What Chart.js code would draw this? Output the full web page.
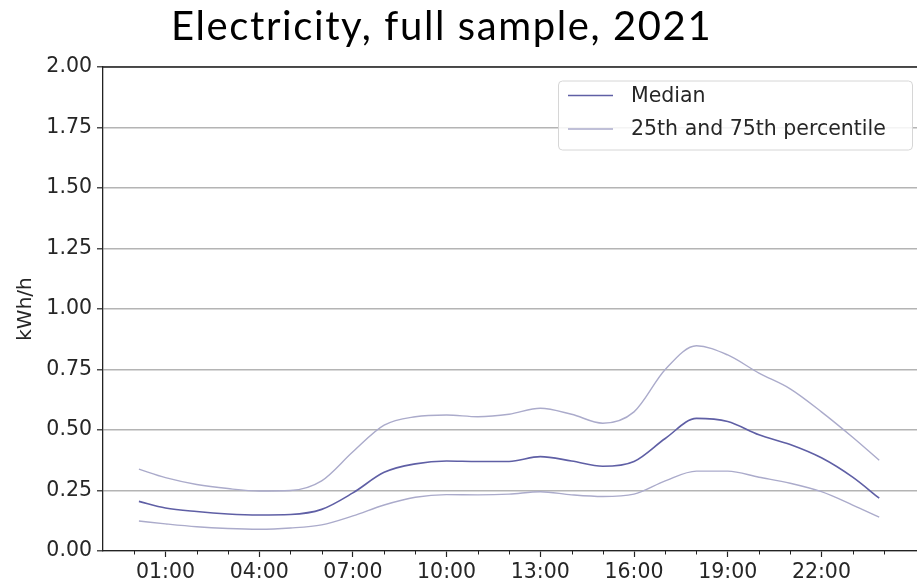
<!DOCTYPE html>
<html>
<head>
<meta charset="utf-8">
<script src="https://cdn.jsdelivr.net/npm/chart.js@4.4.0/dist/chart.umd.min.js"></script>
<style>
  html, body { margin: 0; padding: 0; background: #fff; overflow: hidden; }
  #wrap { width: 917px; height: 586px; }
</style>
</head>
<body>
<div id="wrap"><canvas id="chart" width="917" height="586"></canvas></div>
<script>
const titleText = "Electricity, full sample, 2021";
const yTitle = "kWh/h";

// hour of day for each point
const hours = [0.15, 1, 2, 3, 4, 5, 6, 7, 8, 9, 10, 11, 12, 13, 14, 15, 16, 17, 18, 19, 20, 21, 22, 23, 23.85];
const medianValues = [0.205, 0.178, 0.163, 0.153, 0.149, 0.151, 0.172, 0.24, 0.325, 0.36, 0.372, 0.37, 0.37, 0.39, 0.372, 0.35, 0.37, 0.465, 0.548, 0.535, 0.48, 0.44, 0.385, 0.305, 0.218];
const p25Values = [0.124, 0.112, 0.1, 0.093, 0.09, 0.095, 0.108, 0.145, 0.19, 0.222, 0.233, 0.232, 0.235, 0.245, 0.232, 0.225, 0.235, 0.29, 0.33, 0.33, 0.305, 0.28, 0.245, 0.19, 0.14];
const p75Values = [0.338, 0.303, 0.275, 0.258, 0.248, 0.25, 0.29, 0.41, 0.52, 0.555, 0.562, 0.555, 0.565, 0.59, 0.565, 0.528, 0.575, 0.75, 0.848, 0.81, 0.735, 0.67, 0.575, 0.47, 0.375];
const xTickHours = [1, 4, 7, 10, 13, 16, 19, 22];
const yTicks = [0, 0.25, 0.5, 0.75, 1.0, 1.25, 1.5, 1.75, 2.0];

const medianColor = "#5f5fa5";
const pctColor = "#ababcb";
const textColor = "#262626";
const tickFont = { family: "DejaVu Sans", size: 20.5 };

function toPoints(vals) {
    return hours.map((h, i) => ({ x: h, y: vals[i] }));
}

// title, frame, minor ticks and legend box
const extras = {
    id: "extras",
    afterDraw(chart) {
        const ctx = chart.ctx;
        const area = chart.chartArea;
        const xs = chart.scales.x;
        ctx.save();

        // top spine
        ctx.strokeStyle = "#222";
        ctx.lineWidth = 1.3;
        ctx.beginPath();
        ctx.moveTo(area.left, area.top);
        ctx.lineTo(area.right + 2, area.top);
        ctx.stroke();

        // minor ticks each hour
        ctx.lineWidth = 1;
        for (let h = 0; h <= 24; h++) {
            if (xTickHours.includes(h)) continue;
            const px = Math.round(xs.getPixelForValue(h)) + 0.5;
            ctx.beginPath();
            ctx.moveTo(px, area.bottom);
            ctx.lineTo(px, area.bottom + 3.5);
            ctx.stroke();
        }

        // title
        ctx.fillStyle = "#000";
        ctx.font = "40px Lato";
        ctx.letterSpacing = "1.6px";
        ctx.textAlign = "left";
        ctx.textBaseline = "alphabetic";
        ctx.fillText(titleText, 171, 40);
        ctx.letterSpacing = "0px";

        // legend
        const bx = area.right - 359, by = area.top + 13.5, bw = 354, bh = 69;
        ctx.fillStyle = "rgba(255,255,255,0.85)";
        ctx.strokeStyle = "#d6d6d6";
        ctx.lineWidth = 1;
        ctx.beginPath();
        ctx.roundRect(bx + 0.5, by + 0.5, bw, bh, 4);
        ctx.fill();
        ctx.stroke();

        const items = [
            { label: chart.data.datasets[0].label, color: medianColor, y: by + 15 },
            { label: chart.data.datasets[1].label, color: pctColor, y: by + 48.5 }
        ];
        ctx.font = "20.5px 'DejaVu Sans'";
        ctx.textBaseline = "middle";
        items.forEach(it => {
            ctx.strokeStyle = it.color;
            ctx.lineWidth = 1.5;
            ctx.beginPath();
            ctx.moveTo(bx + 10, it.y);
            ctx.lineTo(bx + 55, it.y);
            ctx.stroke();
            ctx.fillStyle = textColor;
            ctx.fillText(it.label, bx + 73, it.y + 1);
        });

        ctx.restore();
    }
};

new Chart(document.getElementById("chart"), {
    type: "line",
    data: {
        datasets: [
            {
                label: "Median",
                data: toPoints(medianValues),
                borderColor: medianColor,
                borderWidth: 1.6,
                pointRadius: 0,
                cubicInterpolationMode: "monotone",
                order: 0
            },
            {
                label: "25th and 75th percentile",
                data: toPoints(p75Values),
                borderColor: pctColor,
                borderWidth: 1.4,
                pointRadius: 0,
                cubicInterpolationMode: "monotone",
                order: 1
            },
            {
                label: "25th percentile",
                data: toPoints(p25Values),
                borderColor: pctColor,
                borderWidth: 1.4,
                pointRadius: 0,
                cubicInterpolationMode: "monotone",
                order: 1
            }
        ]
    },
    options: {
        responsive: false,
        animation: false,
        events: [],
        layout: { padding: { top: 67, right: 0, left: 0, bottom: 0 } },
        plugins: {
            legend: { display: false },
            title: { display: false },
            tooltip: { enabled: false }
        },
        scales: {
            x: {
                type: "linear",
                min: -1.0,
                max: 25.06,
                afterBuildTicks: s => { s.ticks = xTickHours.map(v => ({ value: v })); },
                afterFit: s => { s.height = 35; },
                ticks: {
                    color: textColor,
                    font: tickFont,
                    padding: 3,
                    maxRotation: 0,
                    autoSkip: false,
                    callback: v => String(v).padStart(2, "0") + ":00"
                },
                grid: {
                    drawOnChartArea: false,
                    tickLength: 6,
                    tickColor: "#222",
                    tickWidth: 1.2
                },
                border: { color: "#222", width: 1.3 }
            },
            y: {
                min: 0,
                max: 2,
                afterBuildTicks: s => { s.ticks = yTicks.map(v => ({ value: v })); },
                afterFit: s => { s.width = 103; },
                title: {
                    display: true,
                    text: yTitle,
                    color: textColor,
                    font: { family: "DejaVu Sans", size: 20 },
                    padding: { top: 14, bottom: 0 }
                },
                ticks: {
                    color: textColor,
                    font: tickFont,
                    padding: 5,
                    callback: v => v.toFixed(2)
                },
                grid: {
                    color: "#b4b4b4",
                    lineWidth: 1.6,
                    tickLength: 6,
                    tickColor: "#222",
                    tickWidth: 1.2
                },
                border: { color: "#222", width: 1.3 }
            }
        }
    },
    plugins: [extras]
});
</script>
</body>
</html>
